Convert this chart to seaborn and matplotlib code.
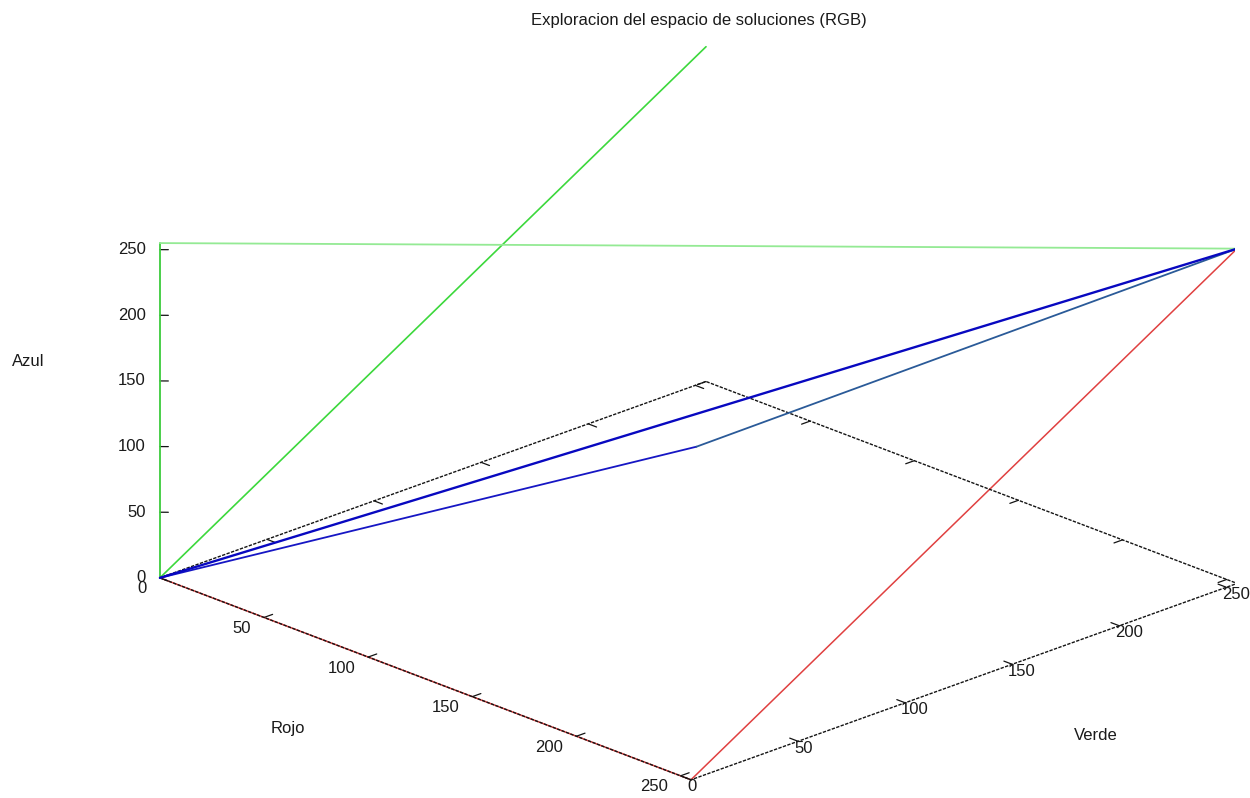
import numpy as np
import matplotlib
matplotlib.use("Agg")
import matplotlib.pyplot as plt
import seaborn as sns
from mpl_toolkits.mplot3d import proj3d

# ---------------------------------------------------------------- data
AXIS_MAX = 255
tick_values = [0, 50, 100, 150, 200, 250]

# Paths explored through the RGB cube (red, green, blue coordinates)
red_path_r = [0, 255, 255]
red_path_g = [0, 0, 255]
red_path_b = [0, 0, 255]

green_rise_r = [0, 0]
green_rise_g = [0, 255]
green_rise_b = [0, 255]

green_edge_r = [0, 0, 255]
green_edge_g = [0, 0, 255]
green_edge_b = [0, 255, 255]

blue_direct_r = [0, 255]
blue_direct_g = [0, 255]
blue_direct_b = [0, 255]

blue_bent_r = [0, 127, 255]
blue_bent_g = [0, 127, 255]
blue_bent_b = [0, 102, 255]

title = "Exploracion del espacio de soluciones (RGB)"
label_r, label_g, label_b = "Rojo", "Verde", "Azul"

# --------------------------------------------------------------- style
W, H, DPI = 1250, 798, 100
sns.set_theme(style="white")
plt.rcParams["font.family"] = ["Liberation Sans", "DejaVu Sans"]
FS = 12

fig = plt.figure(figsize=(W / DPI, H / DPI), dpi=DPI, facecolor="white")
ax = fig.add_axes([0.1, 0.1, 0.5, 0.5 * W / H], projection="3d", proj_type="ortho")
ax.computed_zorder = False
ax.view_init(elev=21.7, azim=-44.2)
ax.set_box_aspect((1, 1, 0.473))
ax.set_xlim(0, AXIS_MAX)
ax.set_ylim(0, AXIS_MAX)
ax.set_zlim(0, AXIS_MAX)
ax.set_axis_off()


def to_px(xs, ys, zs):
    """Project 3D data points to figure pixels."""
    u, v, _ = proj3d.proj_transform(np.asarray(xs, float), np.asarray(ys, float),
                                    np.asarray(zs, float), ax.get_proj())
    return ax.transData.transform(np.column_stack([u, v]))


# place the cube so that its corners sit at the wanted pixel spots
fig.canvas.draw()
frame_corners = np.array([[0, 0, 0], [255, 0, 0], [255, 255, 255], [0, 255, 255]], float)
frame_px = np.array([[160, 578], [690, 780], [1237, 248], [707, 47]], float)
frame_px[:, 1] = H - frame_px[:, 1]
bb = ax.get_position()
L, B, S = bb.x0 * W, bb.y0 * H, bb.width * W
n = (to_px(*frame_corners.T) - [L, B]) / S
A, t = [], []
for (nx, ny), (tx, ty) in zip(n, frame_px):
    A.append([1, 0, nx]); t.append(tx)
    A.append([0, 1, ny]); t.append(ty)
L2, B2, S2 = np.linalg.lstsq(np.array(A, float), np.array(t), rcond=None)[0]
ax.set_position([L2 / W, B2 / H, S2 / W, S2 / H])
fig.canvas.draw()

# ------------------------------------------------------------- frame
BORDER = dict(color="#141414", lw=1.0, ls=(0, (2.4, 1.0)), zorder=3)
TICK = dict(color="#141414", lw=0.9, zorder=3)
M = AXIS_MAX

# red path drawn first so the front border sits over it
ax.plot(red_path_r, red_path_g, red_path_b, color="#e04040", lw=1.1, zorder=2)

ax.plot([0, 0, M], [0, M, M], [0, 0, 0], **BORDER)      # back edges
ax.plot([0, M, M], [0, 0, M], [0, 0, 0], **BORDER)      # front edges

tk = 4.0
for v in tick_values:
    ax.plot([v, v], [0, tk], [0, 0], **TICK)
    ax.plot([v, v], [M, M - tk], [0, 0], **TICK)
    ax.plot([M, M - tk], [v, v], [0, 0], **TICK)
    ax.plot([0, tk], [v, v], [0, 0], **TICK)
    if 0 < v < M:
        ax.plot([0, 2.0], [0, 2.0], [v, v], **TICK)

# -------------------------------------------------------------- paths
ax.plot(green_rise_r, green_rise_g, green_rise_b, color="#3cd83c", lw=1.2, zorder=4)
ax.plot(green_edge_r[:2], green_edge_g[:2], green_edge_b[:2], color="#3ccc3c", lw=1.3, zorder=4)
ax.plot(green_edge_r[1:], green_edge_g[1:], green_edge_b[1:], color="#94ea94", lw=1.3, zorder=4)
ax.plot(blue_bent_r[:2], blue_bent_g[:2], blue_bent_b[:2], color="#1616c4", lw=1.3, zorder=5)
ax.plot(blue_bent_r[1:], blue_bent_g[1:], blue_bent_b[1:], color="#2a5a98", lw=1.3, zorder=5)
ax.plot(blue_direct_r, blue_direct_g, blue_direct_b, color="#0808c0", lw=1.7, zorder=6)

# -------------------------------------------------------------- labels
def label_at(px, text, dx, dy, **kw):
    fig.text((px[0] + dx) / W, (px[1] + dy) / H, text, fontsize=FS, color="#1a1a1a", **kw)

tv = np.array(tick_values, float)
zeros = np.zeros_like(tv)
for p, v in zip(to_px(zeros, zeros, tv), tick_values):
    label_at(p, str(v), -14, 0, ha="right", va="center")
for p, v in zip(to_px(tv, zeros, zeros), tick_values):
    label_at(p, str(v), -13, -11, ha="right", va="center")
for p, v in zip(to_px(np.full_like(tv, M), tv, zeros), tick_values):
    label_at(p, str(v), -4, -7, ha="left", va="center")

fig.text(699 / W, 1 - 20 / H, title, ha="center", va="center", fontsize=FS, color="#1a1a1a")
fig.text(28 / W, 1 - 362 / H, label_b, ha="center", va="center", fontsize=FS, color="#1a1a1a")
fig.text(288 / W, 1 - 728 / H, label_r, ha="center", va="center", fontsize=FS, color="#1a1a1a")
fig.text(1096 / W, 1 - 735 / H, label_g, ha="center", va="center", fontsize=FS, color="#1a1a1a")

fig.savefig("out.png", dpi=DPI, facecolor="white")
